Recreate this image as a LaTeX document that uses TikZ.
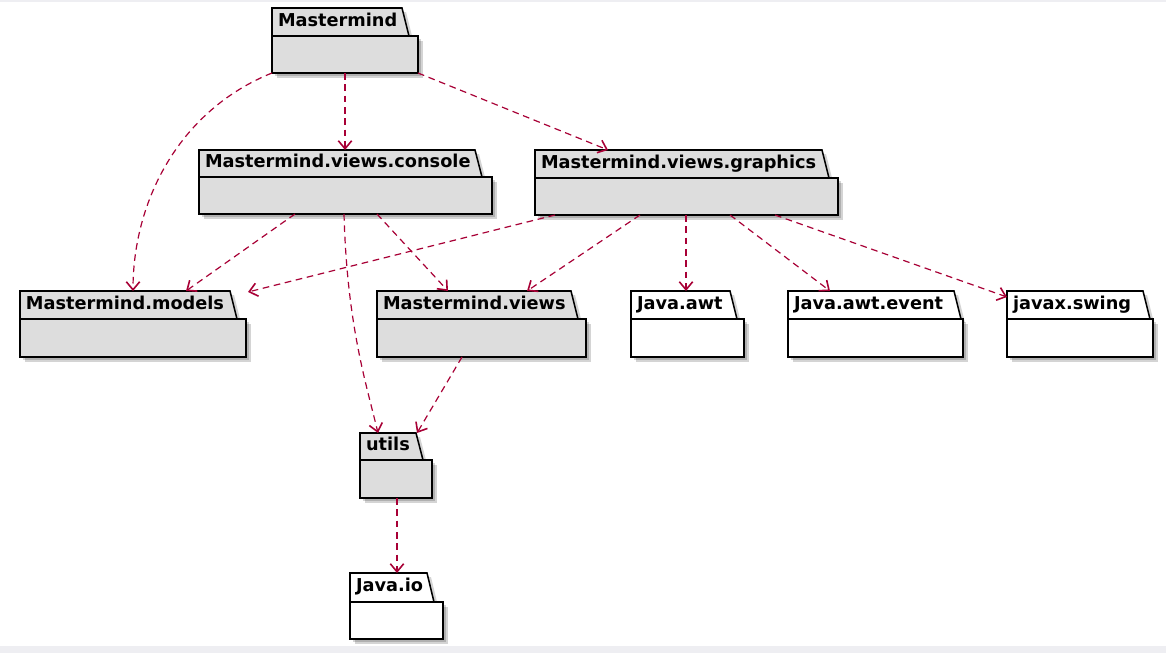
\documentclass[tikz,border=0pt]{standalone}
\usepackage{fontspec}
\setmainfont{DejaVu Sans}
\usetikzlibrary{arrows.meta,calc}
\definecolor{pkgfill}{RGB}{221,221,221}
\definecolor{deparrow}{RGB}{168,0,54}
\definecolor{pageedge}{RGB}{238,238,242}

\tikzset{
    pkgline/.style={draw=black,line width=1.15pt,line join=miter},
    pkgshadow/.style={fill=black,opacity=0.17},
    pkgbody/.style={pkgline,anchor=north west,inner sep=0pt,outer sep=0pt},
    pkglabel/.style={anchor=north west,inner sep=0pt,inner xsep=4.5pt,outer sep=0pt,align=left,
        font=\bfseries\fontsize{13.3}{15}\selectfont,text height=0.8em,text depth=0.14em},
    dep/.style={draw=deparrow,line width=0.9pt,dash pattern=on 5pt off 3.5pt,
        -{Straight Barb[length=6pt,width=10pt,line width=1.2pt]}}
}

% name, left, top, tab right, tab bottom, right, bottom, fill, label
\newcommand{\pkg}[9]{%
    \fill[pkgshadow] (#2+3,#5+3) rectangle (#6+3,#7+3);
    \fill[pkgshadow] (#2+5,#5+5) rectangle (#6+5,#7+5);
    \fill[pkgshadow] (#2+4,#3+4) -- (#4+4,#3+4) -- (#4+11,#5+4) -- (#2+4,#5+4) -- cycle;
    \path[pkgline,fill=#8] (#2,#3) -- (#4,#3) -- (#4+7,#5) -- (#2,#5) -- cycle;
    \node[pkgbody,fill=#8,minimum width={(#6-#2)*0.75pt},minimum height={(#7-#5)*0.75pt}] (#1) at (#2,#5) {};
    \node[pkglabel,text width={(#4-#2-12)*0.75pt},minimum height={(#5-#3)*0.75pt}] (#1-tab) at (#2,#3) {#9};
}

\begin{document}
\begin{tikzpicture}[x=0.75pt,y=-0.75pt]
    \useasboundingbox (0,0) rectangle (1166,653);
    \fill[white] (0,0) rectangle (1166,653);
    \fill[pageedge] (0,0) rectangle (1166,1.5);
    \fill[pageedge] (0,646) rectangle (1166,653);

    \pkg{mm}{272}{8}{402}{36}{418}{73}{pkgfill}{Mastermind}
    \pkg{vc}{199}{150}{475}{177}{492}{214}{pkgfill}{Mastermind.views.console}
    \pkg{vg}{535}{150}{822}{178}{838}{215}{pkgfill}{Mastermind.views.graphics}
    \pkg{md}{20}{291}{230}{319}{246}{357}{pkgfill}{Mastermind.models}
    \pkg{vw}{377}{291}{571}{319}{586}{357}{pkgfill}{Mastermind.views}
    \pkg{awt}{631}{291}{730}{319}{744}{357}{white}{Java.awt}
    \pkg{awte}{788}{291}{954}{319}{963}{357}{white}{Java.awt.event}
    \pkg{swing}{1007}{291}{1143}{319}{1153}{357}{white}{javax.swing}
    \pkg{ut}{360}{433}{416}{460}{432}{498}{pkgfill}{utils}
    \pkg{io}{350}{573}{427}{602}{443}{639}{white}{Java.io}

    % dependencies
    \draw[dep] (mm.south west) .. controls +(-92,37) and +(0,-91) .. ($(md-tab.north west)+(113,0)$);
    \draw[dep] ($(mm.south west)+(73,0)$) -- ($(vc-tab.north west)+(146,0)$);
    \draw[dep] (mm.south east) -- ($(vg-tab.north west)+(73,0)$);
    \draw[dep] ($(vc.south west)+(96,0)$) -- ($(md-tab.north west)+(166,0)$);
    \draw[dep] ($(vg.south west)+(20,0)$) -- ($(md-tab.north east)+(18,1)$);
    \draw[dep] ($(vc.south west)+(178,0)$) -- ($(vw-tab.north west)+(71,0)$);
    \draw[dep] ($(vg.south west)+(105,0)$) -- ($(vw-tab.north west)+(150,0)$);
    \draw[dep] ($(vg.south west)+(151,0)$) -- ($(awt-tab.north west)+(55,0)$);
    \draw[dep] ($(vg.south west)+(195,0)$) -- ($(awte-tab.north west)+(42,0)$);
    \draw[dep] ($(vg.south west)+(240,0)$) -- ($(swing-tab.north west)+(0,6)$);
    \draw[dep] ($(vc.south west)+(145,0)$) .. controls +(3,110) and +(-12,-50) .. ($(ut-tab.north west)+(18,0)$);
    \draw[dep] ($(vw.south west)+(85,0)$) -- ($(ut-tab.north west)+(57,0)$);
    \draw[dep] ($(ut.south west)+(37,0)$) -- ($(io-tab.north west)+(47,0)$);
\end{tikzpicture}
\end{document}
